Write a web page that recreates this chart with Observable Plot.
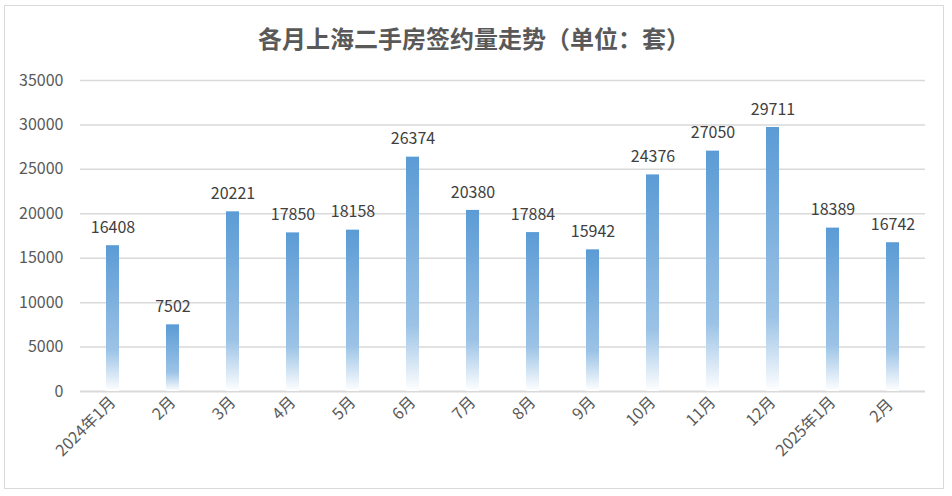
<!DOCTYPE html>
<html><head><meta charset="utf-8">
<script src="https://cdn.jsdelivr.net/npm/d3@7"></script>
<script src="https://cdn.jsdelivr.net/npm/@observablehq/plot@0.6"></script>
<style>
body{margin:0;background:#fff;font-family:"Noto Sans CJK SC","Noto Sans",sans-serif;}
#frame{position:absolute;left:4px;top:5px;width:938px;height:482px;border:1px solid #d9d9d9;background:#fff;}
#title{height:60px;line-height:64px;text-align:center;font-size:24px;font-weight:bold;color:#595959;}
</style></head>
<body>
<div id="frame"><div id="title">各月上海二手房签约量走势（单位：套）</div><div id="chart"></div></div>
<script>
const months = ["2024年1月","2月","3月","4月","5月","6月","7月","8月","9月","10月","11月","12月","2025年1月","2月 "];
const volumes = [16408, 7502, 20221, 17850, 18158, 26374, 20380, 17884, 15942, 24376, 27050, 29711, 18389, 16742];
const yTicks = [0, 5000, 10000, 15000, 20000, 25000, 30000, 35000];

const data = months.map((m, i) => ({month: m, value: volumes[i]}));

const defs = () => {
  const d = d3.create("svg:defs");
  const g = d.append("linearGradient").attr("id", "barGrad")
    .attr("x1", 0).attr("y1", 0).attr("x2", 0).attr("y2", 1);
  g.append("stop").attr("offset", "0%").attr("stop-color", "#5b9bd5");
  g.append("stop").attr("offset", "72%").attr("stop-color", "#9cc3e6");
  g.append("stop").attr("offset", "100%").attr("stop-color", "#ffffff");
  return d.node();
};

const plot = Plot.plot({
  width: 938,
  height: 422,
  marginTop: 14,
  marginLeft: 75,
  marginRight: 18,
  marginBottom: 97,
  style: {fontFamily: '"Noto Sans CJK SC","Noto Sans",sans-serif', fontSize: "16px", color: "#595959", background: "#fff"},
  x: {domain: months, paddingInner: 0.78, paddingOuter: 0.39, label: null, tickSize: 0, tickPadding: 8, tickRotate: -45},
  y: {domain: [0, 35000], ticks: yTicks, label: null, tickSize: 0, tickPadding: 17, tickFormat: d => String(d)},
  marks: [
    defs,
    Plot.gridY(yTicks.filter(t => t > 0), {stroke: "#d9d9d9", strokeOpacity: 1, strokeWidth: 1.5}),
    Plot.ruleY([0], {stroke: "#d9d9d9", strokeWidth: 2}),
    Plot.barY(data, {x: "month", y: "value", fill: "url(#barGrad)"}),
    Plot.text(data, {x: "month", y: "value", text: d => String(d.value), dy: -18, fill: "#404040", fontSize: 16})
  ]
});
document.getElementById("chart").appendChild(plot);
</script>
</body></html>
